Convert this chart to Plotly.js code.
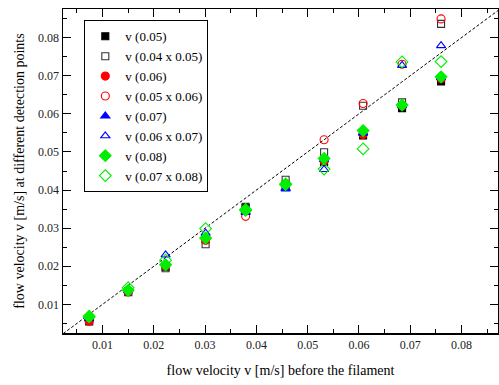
<!DOCTYPE html>
<html>
<head>
<meta charset="utf-8">
<script src="https://cdn.plot.ly/plotly-3.0.1.min.js"></script>
<style>html,body{margin:0;padding:0;background:#fff;}#chart{width:499px;height:385px;}</style>
</head>
<body>
<div id="chart"></div>
<script>
// flow velocity before the filament [m/s]
const xBefore = [0.0074, 0.0150, 0.0223, 0.0301, 0.0379, 0.0457, 0.0532, 0.0608, 0.0684, 0.0760];

// flow velocity at different detection points [m/s]
const v005      = [0.0055, 0.0132, 0.0199, 0.0271, 0.0353, 0.0414, 0.0474, 0.0543, 0.0615, 0.0685];
const v004x005  = [0.0057, 0.0133, 0.0195, 0.0258, 0.0356, 0.0427, 0.0499, 0.0621, 0.0630, 0.0836];
const v006      = [0.0058, 0.0133, 0.0202, 0.0268, 0.0345, 0.0414, 0.0476, 0.0546, 0.0621, 0.0692];
const v005x006  = [0.0056, 0.0135, 0.0201, 0.0270, 0.0331, 0.0415, 0.0532, 0.0627, 0.0730, 0.0849];
const v007      = [0.0063, 0.0136, 0.0207, 0.0277, 0.0341, 0.0405, 0.0480, 0.0550, 0.0621, 0.0695];
const v006x007  = [0.0064, 0.0138, 0.0230, 0.0287, 0.0344, 0.0403, 0.0454, 0.0550, 0.0727, 0.0779];
const v008      = [0.0067, 0.0137, 0.0204, 0.0274, 0.0347, 0.0414, 0.0483, 0.0556, 0.0623, 0.0697];
const v007x008  = [0.0069, 0.0144, 0.0216, 0.0299, 0.0349, 0.0416, 0.0455, 0.0508, 0.0736, 0.0737];

const seriesNames = ["v (0.05)", "v (0.04 x 0.05)", "v (0.06)", "v (0.05 x 0.06)",
                     "v (0.07)", "v (0.06 x 0.07)", "v (0.08)", "v (0.07 x 0.08)"];

const identityLine = [0, 0.1];

const styles = [
  {symbol: "square", color: "#000000"},
  {symbol: "square-open", color: "#333333"},
  {symbol: "circle", color: "#ff0000"},
  {symbol: "circle-open", color: "#ff0000"},
  {symbol: "triangle-up", color: "#0000ff"},
  {symbol: "triangle-up-open", color: "#0000ff"},
  {symbol: "diamond", color: "#00ee00"},
  {symbol: "diamond-open", color: "#00ee00"}
];
const sizes = [7, 7, 8, 8, 8, 8, 9, 9];

const allY = [v005, v004x005, v006, v005x006, v007, v006x007, v008, v007x008];

const traces = [{
  x: identityLine, y: identityLine, mode: "lines", showlegend: false, hoverinfo: "skip",
  line: {color: "#000", width: 1, dash: "3px,2px"}
}];
allY.forEach((ys, i) => {
  traces.push({
    x: xBefore, y: ys, mode: "markers", name: seriesNames[i], type: "scatter",
    marker: {symbol: styles[i].symbol, color: styles[i].color, size: sizes[i],
             line: {color: styles[i].color, width: 1.1}}
  });
});

const serif = "Liberation Serif, Times New Roman, serif";
const axisCommon = {
  showgrid: false, zeroline: false, showline: true, linecolor: "#000", linewidth: 1.5,
  mirror: "allticks", ticks: "inside", ticklen: 8, tickcolor: "#000", tickwidth: 1,
  dtick: 0.01, tickformat: ".2f",
  tickfont: {family: serif, size: 12, color: "#222"},
  minor: {dtick: 0.005, ticks: "inside", ticklen: 4, tickcolor: "#000", tickwidth: 1, showgrid: false}
};

const layout = {
  width: 499, height: 385,
  margin: {l: 63, r: 1, t: 9, b: 52},
  paper_bgcolor: "#fff", plot_bgcolor: "#fff",
  font: {family: serif, color: "#000"},
  xaxis: Object.assign({}, axisCommon, {
    range: [0.0023, 0.0871], tick0: 0,
    title: {text: "flow velocity v [m/s] before the filament", font: {family: serif, size: 14, color: "#000"}, standoff: 14}
  }),
  yaxis: Object.assign({}, axisCommon, {
    range: [0.0025, 0.0875], tick0: 0,
    title: {text: "flow velocity v [m/s] at different detection points", font: {family: serif, size: 14, color: "#000"}, standoff: 10}
  }),
  showlegend: true,
  legend: {
    x: 0.049, y: 0.965, xanchor: "left", yanchor: "top",
    bgcolor: "#fff", bordercolor: "#000", borderwidth: 1,
    font: {family: serif, size: 13, color: "#000"}
  }
};

Plotly.newPlot("chart", traces, layout, {staticPlot: true, displayModeBar: false});
</script>
</body>
</html>
